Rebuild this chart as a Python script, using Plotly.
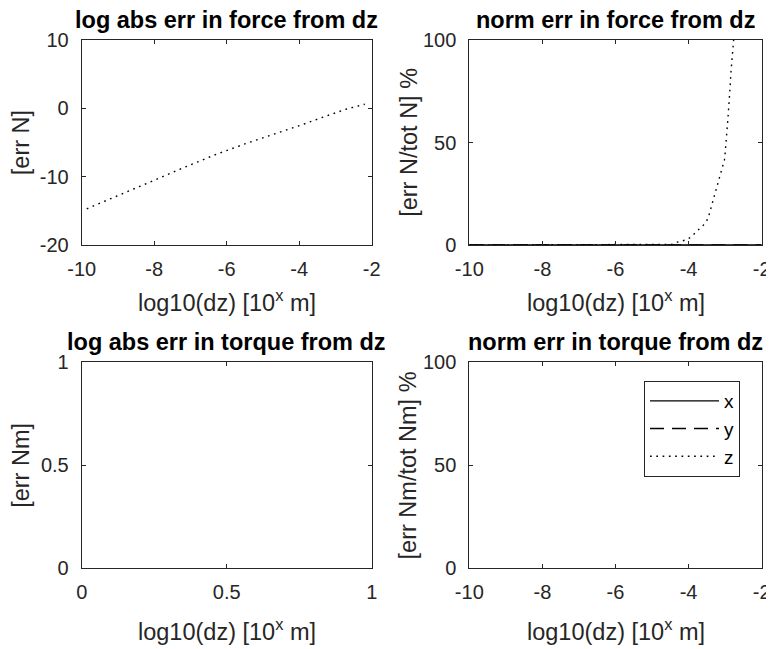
import plotly.graph_objects as go

# ---------------- data ----------------
# top-left: log10 abs error in force (z component), vs log10(dz)
force_log_dz = [-9.86, -8.99, -8.12, -7.24, -6.37, -5.50, -4.62, -3.98, -3.24, -2.69, -2.19]
force_log_err_z = [-14.7, -12.7, -10.8, -8.8, -6.9, -5.2, -3.7, -2.5, -1.1, -0.1, 0.6]

# top-right: normalised error in force, percent
norm_log_dz = [-10.0, -9.0, -8.0, -7.0, -6.0, -5.0, -4.82, -4.46, -4.29, -4.11, -3.95, -3.77,
               -3.59, -3.47, -3.42, -3.36, -3.32, -3.27, -3.21, -3.16, -3.11, -3.06, -3.02,
               -3.00, -2.97, -2.95, -2.92, -2.89, -2.87, -2.84, -2.81, -2.78, -2.75]
norm_err_z = [0.0, 0.0, 0.0, 0.0, 0.0, 0.0, 0.0, 0.3, 1.5, 2.3, 3.7, 6.8,
              9.8, 12.8, 15.9, 19.2, 22.3, 25.5, 28.8, 31.9, 35.0, 38.2, 41.5,
              44.7, 49.6, 56.0, 62.6, 69.0, 75.6, 84.5, 91.0, 97.2, 104.0]
full_log_dz = [-10.0, -2.0]
norm_err_x = [0.0, 0.0]
norm_err_y = [0.0, 0.0]

titles = ["log abs err in force from dz", "norm err in force from dz",
          "log abs err in torque from dz", "norm err in torque from dz"]
ylabels = ["[err N]", "[err N/tot N] %", "[err Nm]", "[err Nm/tot Nm] %"]
xlabel = "log10(dz) [10<sup>x</sup> m]"
series_names = ["x", "y", "z"]

log_ticks = [-10, -8, -6, -4, -2]
force_log_yticks = [-20, -10, 0, 10]
pct_ticks = [0, 50, 100]
unit_ticks = [0, 0.5, 1]

# ---------------- styling ----------------
# the page body has an 8px margin, so the figure is drawn at (8, 8) in the window
OFF = 8
W, H = 774 - OFF, 649 - OFF
AX = "#262626"
FONT = "Liberation Sans, Arial, sans-serif"
TICK_SIZE = 20
LABEL_SIZE = 23.5
TITLE_SIZE = 23.5


def px_x(p):
    return (p - OFF) / W


def px_y(p):
    return 1 - (p - OFF) / H


xdom_left = [px_x(81.7), px_x(371.7)]
xdom_right = [px_x(469.3), px_x(761.7)]
ydom_top = [px_y(245), px_y(40)]
ydom_bot = [px_y(568.3), px_y(362)]

DOT = "1.7px,4.6px"
DASH = "14px,8px"
LW = 1.4

fig = go.Figure()

# top-left
fig.add_trace(go.Scatter(x=force_log_dz, y=force_log_err_z, mode="lines",
                         line=dict(color="black", width=LW, dash=DOT),
                         xaxis="x", yaxis="y", showlegend=False))
# top-right
fig.add_trace(go.Scatter(x=full_log_dz, y=norm_err_x, mode="lines", name=series_names[0],
                         line=dict(color="black", width=LW),
                         xaxis="x2", yaxis="y2"))
fig.add_trace(go.Scatter(x=full_log_dz, y=norm_err_y, mode="lines", name=series_names[1],
                         line=dict(color="black", width=LW, dash=DASH),
                         xaxis="x2", yaxis="y2"))
fig.add_trace(go.Scatter(x=norm_log_dz, y=norm_err_z, mode="lines", name=series_names[2],
                         line=dict(color="black", width=LW, dash=DOT),
                         xaxis="x2", yaxis="y2"))
# bottom-left (empty) and bottom-right placeholders to realise the axes
fig.add_trace(go.Scatter(x=[None], y=[None], xaxis="x3", yaxis="y3", showlegend=False))
fig.add_trace(go.Scatter(x=[None], y=[None], xaxis="x4", yaxis="y4", showlegend=False))


def axis_common(domain, anchor, rng, ticks, is_x):
    return dict(domain=domain, anchor=anchor, range=rng, tickvals=ticks,
                ticktext=[("%g" % t) for t in ticks],
                showline=True, linecolor=AX, linewidth=1, mirror="ticks",
                ticks="inside", ticklen=4, tickwidth=1, tickcolor=AX,
                showgrid=False, zeroline=False, fixedrange=True, automargin=False,
                ticklabelstandoff=6 if is_x else 8,
                tickfont=dict(family=FONT, size=TICK_SIZE, color=AX))


fig.update_layout(
    xaxis=axis_common(xdom_left, "y", [-10, -2], log_ticks, True),
    yaxis=axis_common(ydom_top, "x", [-20, 10], force_log_yticks, False),
    xaxis2=axis_common(xdom_right, "y2", [-10, -2], log_ticks, True),
    yaxis2=axis_common(ydom_top, "x2", [0, 100], pct_ticks, False),
    xaxis3=axis_common(xdom_left, "y3", [0, 1], unit_ticks, True),
    yaxis3=axis_common(ydom_bot, "x3", [0, 1], unit_ticks, False),
    xaxis4=axis_common(xdom_right, "y4", [-10, -2], log_ticks, True),
    yaxis4=axis_common(ydom_bot, "x4", [0, 100], pct_ticks, False),
)

panels = [(xdom_left, ydom_top, 56), (xdom_right, ydom_top, 56),
          (xdom_left, ydom_bot, 62), (xdom_right, ydom_bot, 62)]
for (xd, yd, xl_off), t, yl in zip(panels, titles, ylabels):
    cx = sum(xd) / 2
    cy = sum(yd) / 2
    # panel title
    fig.add_annotation(x=cx, y=yd[1], xref="paper", yref="paper", text="<b>%s</b>" % t,
                       showarrow=False, xanchor="center", yanchor="middle", yshift=20,
                       font=dict(family=FONT, size=TITLE_SIZE, color="black"))
    # x label
    fig.add_annotation(x=cx, y=yd[0], xref="paper", yref="paper", text=xlabel,
                       showarrow=False, xanchor="center", yanchor="middle", yshift=-xl_off,
                       font=dict(family=FONT, size=LABEL_SIZE, color=AX))
    # y label
    fig.add_annotation(x=xd[0], y=cy, xref="paper", yref="paper", text=yl, textangle=-90,
                       showarrow=False, xanchor="center", yanchor="middle", xshift=-61,
                       font=dict(family=FONT, size=LABEL_SIZE, color=AX))

fig.update_layout(
    width=W, height=H, margin=dict(l=0, r=0, t=0, b=0, autoexpand=False),
    paper_bgcolor="white", plot_bgcolor="white",
    legend=dict(x=px_x(644), y=px_y(381), xanchor="left", yanchor="top",
                bgcolor="white", bordercolor=AX, borderwidth=1,
                itemwidth=69, tracegroupgap=0,
                font=dict(family=FONT, size=19, color="black")),
)

fig.write_html("out.html")
